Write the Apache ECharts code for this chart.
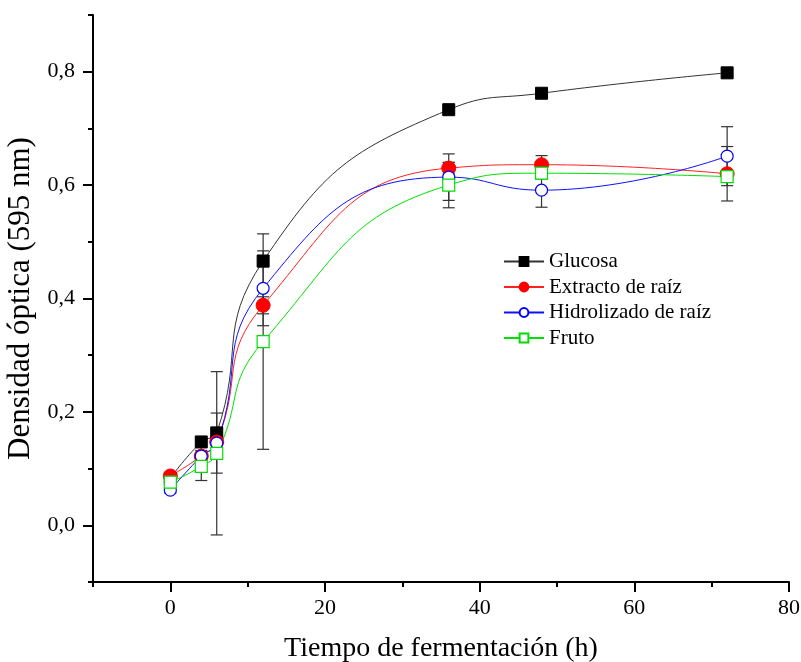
<!DOCTYPE html>
<html>
<head>
<meta charset="utf-8">
<script src="https://cdn.jsdelivr.net/npm/echarts@6/dist/echarts.min.js"></script>
<style>html,body{margin:0;padding:0;background:#fff;}#c{width:801px;height:662px;}</style>
</head>
<body>
<div id="c"></div>
<script>
var times = [0, 4, 6, 12, 36, 48, 72];
var glucosa = [0.083, 0.147, 0.163, 0.466, 0.733, 0.762, 0.798];
var extracto = [0.087, 0.122, 0.147, 0.388, 0.630, 0.636, 0.620];
var hidrolizado = [0.062, 0.122, 0.145, 0.418, 0.614, 0.591, 0.651];
var fruto = [0.076, 0.104, 0.127, 0.324, 0.600, 0.621, 0.615];
var glucosaErr = [0.005, 0.005, 0.008, 0.01, 0.005, 0.005, 0.005];
var extractoErr = [0.005, 0.026, 0.01, 0.015, 0.01, 0.016, 0.048];
var hidrolizadoErr = [0.005, 0.01, 0.053, 0.066, 0.041, 0.03, 0.052];
var frutoErr = [0.008, 0.025, 0.144, 0.19, 0.04, 0.01, 0.01];
var seriesNames = ['Glucosa', 'Extracto de raíz', 'Hidrolizado de raíz', 'Fruto'];
var xMajor = [0, 20, 40, 60, 80];
var xMinor = [-10, 10, 30, 50, 70];
var yMajor = [0, 0.2, 0.4, 0.6, 0.8];
var yMinor = [-0.1, 0.1, 0.3, 0.5, 0.7, 0.9];

var FONT = '"Liberation Serif", "Times New Roman", serif';
function pairs(ys) { return times.map(function (t, i) { return [t, ys[i]]; }); }
var errData = [];
[[glucosa, glucosaErr], [extracto, extractoErr], [hidrolizado, hidrolizadoErr], [fruto, frutoErr]].forEach(function (p) {
  times.forEach(function (t, i) { errData.push([t, p[0][i], p[1][i]]); });
});

var chart = echarts.init(document.getElementById('c'), null, {renderer: 'canvas'});
var axisLineStyle = {color: '#000', width: 2};
function lineSeries(name, data, color, lineColor, symbol, filled, size) {
  return {
    name: name, type: 'line', data: pairs(data), smooth: 0.5,
    symbol: symbol, symbolSize: size, showSymbol: true,
    lineStyle: {color: lineColor, width: 1},
    itemStyle: filled ? {color: color, borderColor: color, borderWidth: 1} : {color: '#fff', borderColor: color, borderWidth: 1.2},
    z: 3
  };
}
var option = {
  animation: false,
  backgroundColor: '#fff',
  grid: {left: 93, right: 12, top: 15, bottom: 80, containLabel: false, outerBoundsMode: 'none'},
  legend: {
    data: seriesNames, orient: 'vertical', left: 498, top: 246,
    itemWidth: 40, itemHeight: 11, itemGap: 4.5,
    textStyle: {fontFamily: FONT, fontSize: 21, color: '#000'}
  },
  xAxis: [{
    type: 'value', min: -10, max: 80,
    name: 'Tiempo de fermentación (h)', nameLocation: 'middle', nameGap: 53,
    nameTextStyle: {fontFamily: FONT, fontSize: 28, color: '#000'},
    axisLine: {onZero: false, lineStyle: axisLineStyle},
    axisTick: {customValues: xMajor, length: 10, lineStyle: {color: '#000', width: 2}},
    axisLabel: {customValues: xMajor, margin: 15, fontFamily: FONT, fontSize: 22, color: '#000'},
    splitLine: {show: false}
  }, {
    type: 'value', min: -10, max: 80, position: 'bottom',
    axisLine: {show: false, onZero: false},
    axisTick: {customValues: xMinor, length: 5, lineStyle: {color: '#000', width: 2}},
    axisLabel: {show: false}, splitLine: {show: false}
  }],
  yAxis: [{
    type: 'value', min: -0.1, max: 0.9,
    name: 'Densidad óptica (595 nm)', nameLocation: 'middle', nameGap: 56,
    nameTextStyle: {fontFamily: FONT, fontSize: 31, color: '#000'},
    axisLine: {show: true, onZero: false, lineStyle: axisLineStyle},
    axisTick: {show: true, customValues: yMajor, length: 10, lineStyle: {color: '#000', width: 2}},
    axisLabel: {customValues: yMajor, margin: 18, fontFamily: FONT, fontSize: 22, color: '#000',
      formatter: function (v) { return v.toFixed(1).replace('.', ','); }},
    splitLine: {show: false}
  }, {
    type: 'value', min: -0.1, max: 0.9, position: 'left',
    axisLine: {show: false, onZero: false},
    axisTick: {show: true, customValues: yMinor, length: 5, lineStyle: {color: '#000', width: 2}},
    axisLabel: {show: false}, splitLine: {show: false}
  }],
  series: [
    {
      type: 'custom', name: 'err', data: errData, z: 2,
      encode: {x: 0, y: 1},
      renderItem: function (params, api) {
        var x = api.value(0), y = api.value(1), e = api.value(2);
        var top = api.coord([x, y + e]);
        var bot = api.coord([x, y - e]);
        var hw = 6;
        var st = {stroke: '#333', lineWidth: 1.2};
        return {type: 'group', children: [
          {type: 'line', shape: {x1: top[0], y1: top[1], x2: bot[0], y2: bot[1]}, style: st},
          {type: 'line', shape: {x1: top[0] - hw, y1: top[1], x2: top[0] + hw, y2: top[1]}, style: st},
          {type: 'line', shape: {x1: bot[0] - hw, y1: bot[1], x2: bot[0] + hw, y2: bot[1]}, style: st}
        ]};
      }
    },
    lineSeries('Glucosa', glucosa, '#000000', '#333333', 'rect', true, 12),
    lineSeries('Extracto de raíz', extracto, '#ff0000', '#ff2020', 'circle', true, 14),
    lineSeries('Hidrolizado de raíz', hidrolizado, '#0000ff', '#1010ff', 'circle', false, 12),
    lineSeries('Fruto', fruto, '#00dd00', '#00e000', 'rect', false, 12)
  ]
};
chart.setOption(option);
</script>
</body>
</html>
